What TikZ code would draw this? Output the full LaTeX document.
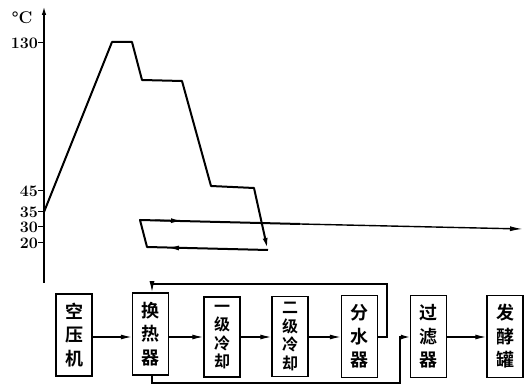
\documentclass[tikz,border=0pt]{standalone}
\usepackage{fontspec}
\newfontfamily\cjk{Noto Sans CJK SC Bold}
\usetikzlibrary{arrows.meta}
\begin{document}
\begin{tikzpicture}[x=1pt,y=-1pt,
  arr/.style={-{Latex[length=11pt,width=5pt]}},
  boxthree/.style={draw,line width=1.5pt,minimum width=36pt,minimum height=82pt,inner sep=0pt,align=center,
     font=\cjk\fontsize{18}{23.5}\selectfont},
  boxfour/.style={draw,line width=1.5pt,minimum width=36pt,minimum height=80pt,inner sep=0pt,align=center,
     font=\cjk\fontsize{16}{18.5}\selectfont},
  tick/.style={font=\bfseries\fontsize{16}{16}\selectfont,anchor=east,inner sep=0pt},
  conn/.style={line width=1.2pt},
  curve/.style={line width=2pt,line join=round}]
\useasboundingbox (0,0) rectangle (525,387);
% axis
\coordinate (ax0) at (44,283);
\coordinate (ax1) at (44,6);
\draw[line width=1.6pt,-{Latex[length=9pt,width=4.5pt]}] (ax0) -- (ax1);
\node[font=\bfseries\fontsize{17}{17}\selectfont,inner sep=0pt] (unit) at (22,18) {\textdegree C};
\foreach \v/\y/\n in {130/43/t130,45/191/t45,35/212/t35,30/227/t30,20/243/t20}{
  \draw[line width=1pt] (38,\y) -- (44,\y);
  \node[tick] (\n) at (38,\y) {\v};
}
% temperature curve
\draw[curve,-{Latex[length=11pt,width=5pt]}] (44,212) -- (112,42) -- (132,42) -- (142,80) -- (182,81) -- (211,186) -- (254,188) -- (267.5,249);
\draw[curve] (268,250) -- (147,247) -- (140,220) -- (300,224);
\draw[line width=1.4pt,-{Latex[length=13pt,width=5pt]}] (300,224) -- (523,229);
\draw[arr,line width=1.5pt] (190,248.2) -- (168,247.8);
\draw[arr,line width=1.5pt] (155,220.3) -- (182,220.9);
% flow chart
\node[boxthree] (kong) at (74,335) {空\\压\\机};
\node[boxthree] (huan) at (150.5,334) {换\\热\\器};
\node[boxfour] (yiji) at (222,337) {一\\级\\冷\\却};
\node[boxfour] (erji) at (290,336.5) {二\\级\\冷\\却};
\node[boxthree] (fen) at (359.5,336.5) {分\\水\\器};
\node[boxthree] (guo) at (428.5,336.5) {过\\滤\\器};
\node[boxthree] (fa) at (505,336.5) {发\\酵\\罐};
\draw[conn,arr] (kong.east |- 0,337) -- (huan.west |- 0,337);
\draw[conn,arr] (huan.east |- 0,337) -- (yiji.west |- 0,337);
\draw[conn,arr] (yiji.east |- 0,337) -- (erji.west |- 0,337);
\draw[conn,arr] (erji.east |- 0,337) -- (fen.west |- 0,337);
\draw[conn,arr] (guo.east |- 0,337) -- (fa.west |- 0,337);
\coordinate (r1) at (387,337);
\coordinate (r2) at (387,284);
\coordinate (r3) at (152,284);
\draw[conn,arr] (fen.east |- r1) -- (r1) -- (r2) -- (r3) -- (huan.north -| r3);
\coordinate (b1) at (152,383);
\coordinate (b2) at (400,383);
\coordinate (b3) at (400,337);
\draw[conn,-{Latex[length=9pt,width=5pt]}] (huan.south -| b1) -- (b1) -- (b2) -- (b3) -- (guo.west |- b3);
\end{tikzpicture}
\end{document}
